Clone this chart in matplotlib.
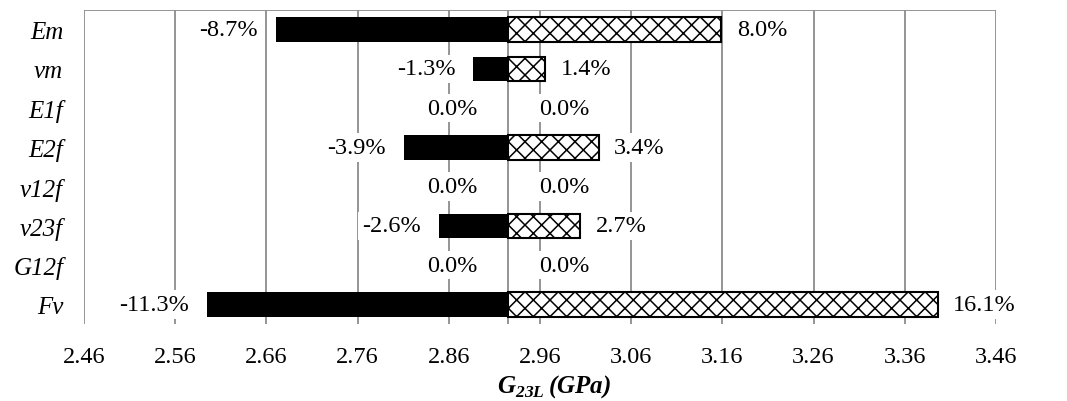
import numpy as np
import matplotlib
matplotlib.use('Agg')
import matplotlib.pyplot as plt

plt.rcParams['font.family'] = ['Liberation Serif', 'DejaVu Serif']
plt.rcParams['mathtext.fontset'] = 'custom'
plt.rcParams['mathtext.rm'] = 'Liberation Serif'
plt.rcParams['mathtext.bfit'] = 'Liberation Serif:italic:bold'
plt.rcParams['hatch.linewidth'] = 1.1

# base value of G23L and the +/- changes for each parameter
base = 2.925
params = ['Em', 'vm', 'E1f', 'E2f', 'v12f', 'v23f', 'G12f', 'Fv']
low_pct = [-8.7, -1.3, 0.0, -3.9, 0.0, -2.6, 0.0, -11.3]
high_pct = [8.0, 1.4, 0.0, 3.4, 0.0, 2.7, 0.0, 16.1]
xticks = [2.46, 2.56, 2.66, 2.76, 2.86, 2.96, 3.06, 3.16, 3.26, 3.36, 3.46]

low = base * (1 + np.array(low_pct) / 100)
high = base * (1 + np.array(high_pct) / 100)
y = np.arange(len(params))

fig = plt.figure(figsize=(10.67, 4.02), dpi=100)
ax = fig.add_axes([84 / 1067, 77 / 402, 912 / 1067, 314 / 402])

grid_c = '#8c8c8c'
for xv in xticks:
    ax.axvline(xv, color=grid_c, lw=1.3, zorder=0)
ax.axhline(-0.5, color=grid_c, lw=1.3, zorder=0)
ax.axvline(base, color=grid_c, lw=1.3, zorder=1)

for i in range(len(params)):
    if low[i] != base:
        ax.barh(y[i], low[i] - base, left=base, height=0.62, color='black', zorder=3)
    if high[i] != base:
        ax.barh(y[i], high[i] - base, left=base, height=0.62, facecolor='white',
                edgecolor='black', hatch='xx', lw=1.5, zorder=3)

box = dict(boxstyle='square,pad=0.15', fc='white', ec='none')
for i in range(len(params)):
    off = 22 if low_pct[i] == 0 else 13
    ax.annotate('%.1f%%' % low_pct[i], (low[i], y[i]), xytext=(-off, 0),
                textcoords='offset points', ha='right', va='center',
                fontsize=17.5, bbox=box, zorder=4)
    off = 22 if high_pct[i] == 0 else 11
    ax.annotate('%.1f%%' % high_pct[i], (high[i], y[i]), xytext=(off, 0),
                textcoords='offset points', ha='left', va='center',
                fontsize=17.5, bbox=box, zorder=4)

ax.set_xlim(2.46, 3.46)
ax.set_ylim(len(params) - 0.5, -0.5)
ax.set_xticks(xticks)
ax.set_xticklabels(['%.2f' % v for v in xticks], fontsize=17.5)
ax.set_yticks(y)
ax.set_yticklabels(params, fontsize=18, style='italic')
ax.tick_params(length=0)
ax.tick_params(axis='y', pad=15)
ax.tick_params(axis='x', pad=16)
for s in ax.spines.values():
    s.set_visible(False)

ax.set_xlabel(r'$\mathbfit{G}_{\mathbfit{23L}}\,\mathbfit{(GPa)}$', fontsize=18, labelpad=2)
ax.xaxis.set_label_coords(0.515, -0.195)
ax.xaxis.label.set_va('center')

fig.savefig('out.png', dpi=100)
